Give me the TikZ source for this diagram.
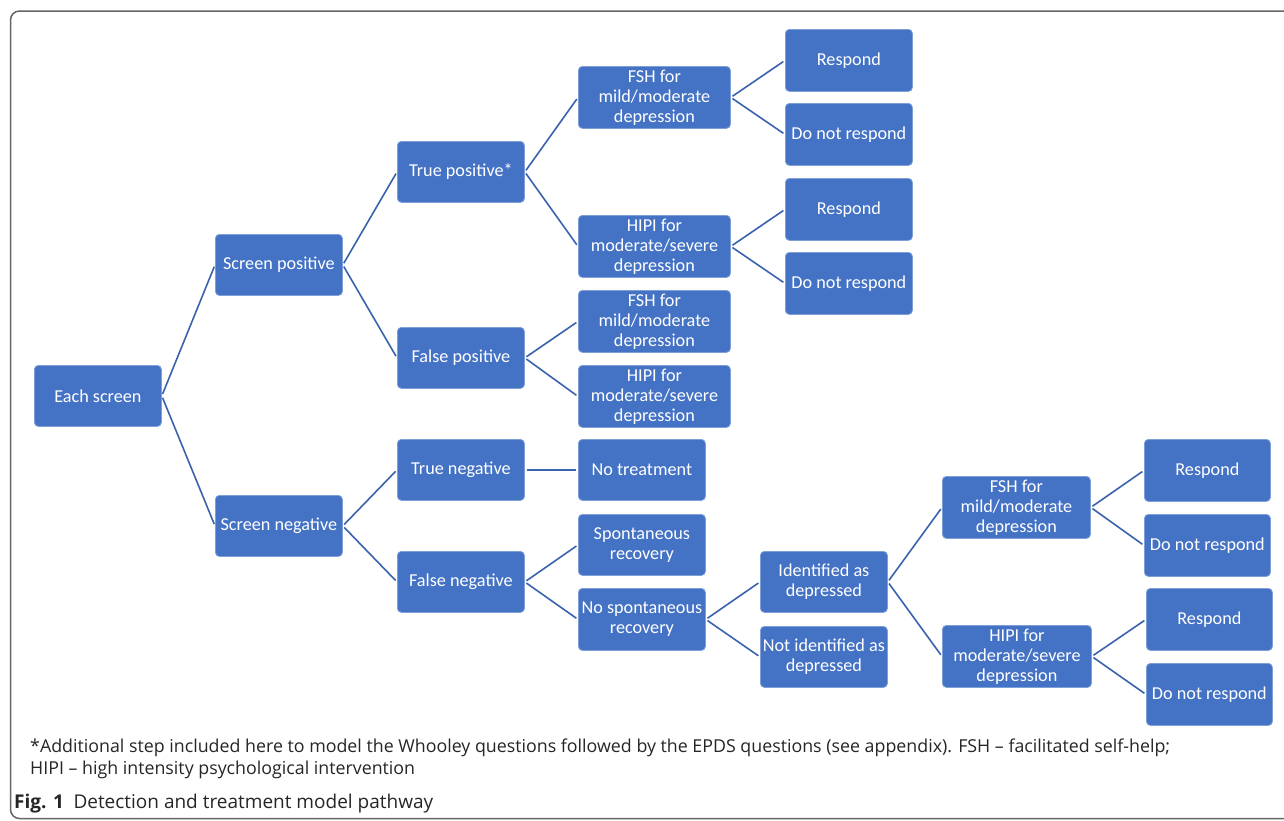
\documentclass[tikz,border=0pt]{standalone}
\usepackage{fontspec}
\setmainfont{Carlito}
\newfontfamily\capfont{Open Sans}
\definecolor{boxblue}{HTML}{4472C4}
\definecolor{boxedge}{HTML}{7F9FD8}
\definecolor{linkblue}{HTML}{3A62AD}
\definecolor{framegray}{HTML}{666666}
\tikzset{
  box/.style={draw=boxedge, line width=0.8pt, fill=boxblue, rounded corners=4pt,
    anchor=north west, inner sep=0pt, text=white, align=center,
    font=\fontsize{18.2}{20}\selectfont},
  link/.style={draw=linkblue, line width=1.6pt, shorten <=2pt, shorten >=2pt},
  captxt/.style={anchor=base west, inner sep=0pt, text=black!85, font=\capfont\fontsize{17.8}{21}\selectfont}
}
\newcommand{\bx}[6]{\node[box, minimum width=#4pt, minimum height=#5pt] (#1) at (#2,#3) {#6};}
\begin{document}
\begin{tikzpicture}[x=1pt,y=-1pt]
\useasboundingbox (0,0) rectangle (1284,820);
\fill[white] (0,0) rectangle (1284,820);
\draw[framegray, line width=1.5pt, rounded corners=9pt] (10.5,11) rectangle (1310,818.5);
% level 0-2
\bx{es}{34}{365}{127}{61}{Each screen}
\bx{sp}{215}{234}{127}{61}{Screen positive}
\bx{sn}{215}{495}{127}{61}{Screen negative}
\bx{tp}{397}{141}{127}{61}{True positive*}
\bx{fp}{397}{327}{127}{61}{False positive}
\bx{tn}{397}{439}{127}{61}{True negative}
\bx{fn}{397}{551}{127}{61}{False negative}
% level 3
\bx{fsha}{578}{66}{152}{62}{FSH for\\mild/moderate\\depression}
\bx{hipia}{578}{215}{152}{62}{HIPI for\\moderate/severe\\depression}
\bx{fshb}{578}{290}{152}{62}{FSH for\\mild/moderate\\depression}
\bx{hipib}{578}{365}{152}{62}{HIPI for\\moderate/severe\\depression}
\bx{nt}{578}{439}{127}{61}{No treatment}
\bx{spr}{578}{514}{127}{61}{Spontaneous\\recovery}
\bx{nspr}{578}{588}{127}{62}{No spontaneous\\recovery}
% level 4
\bx{ida}{760}{551}{127}{61}{Identified as\\depressed}
\bx{nida}{760}{626}{127}{61}{Not identified as\\depressed}
\bx{ra}{785}{29}{127}{62}{Respond}
\bx{da}{785}{103}{127}{62}{Do not respond}
\bx{rb}{785}{178}{127}{62}{Respond}
\bx{db}{785}{252}{127}{62}{Do not respond}
% level 5-6
\bx{fshc}{942}{476}{148}{62}{FSH for\\mild/moderate\\depression}
\bx{hipic}{942}{625}{149}{62}{HIPI for\\moderate/severe\\depression}
\bx{rc}{1144}{439}{126}{62}{Respond}
\bx{dc}{1144}{514}{126}{62}{Do not respond}
\bx{rd}{1146}{588}{126}{62}{Respond}
\bx{dd}{1146}{663}{126}{62}{Do not respond}
% connectors
\foreach \a/\b in {es/sp, es/sn, sp/tp, sp/fp, sn/tn, sn/fn,
  tp/fsha, tp/hipia, fp/fshb, fp/hipib, fsha/ra, fsha/da, hipia/rb, hipia/db,
  tn/nt, fn/spr, fn/nspr, nspr/ida, nspr/nida, ida/fshc, ida/hipic,
  fshc/rc, fshc/dc, hipic/rd, hipic/dd}
  \draw[link] (\a.east) -- (\b.west);
% caption
\node[captxt] (notea) at (30,752)
  {*Additional step included here to model the Whooley questions followed by the EPDS questions (see appendix). FSH – facilitated self-help;};
\node[captxt] (noteb) at (30,774)
  {HIPI – high intensity psychological intervention};
\node[captxt, font=\capfont\fontsize{19}{21}\selectfont] (cap) at (14,808)
  {\textbf{Fig. 1}\enspace Detection and treatment model pathway};
\end{tikzpicture}
\end{document}
